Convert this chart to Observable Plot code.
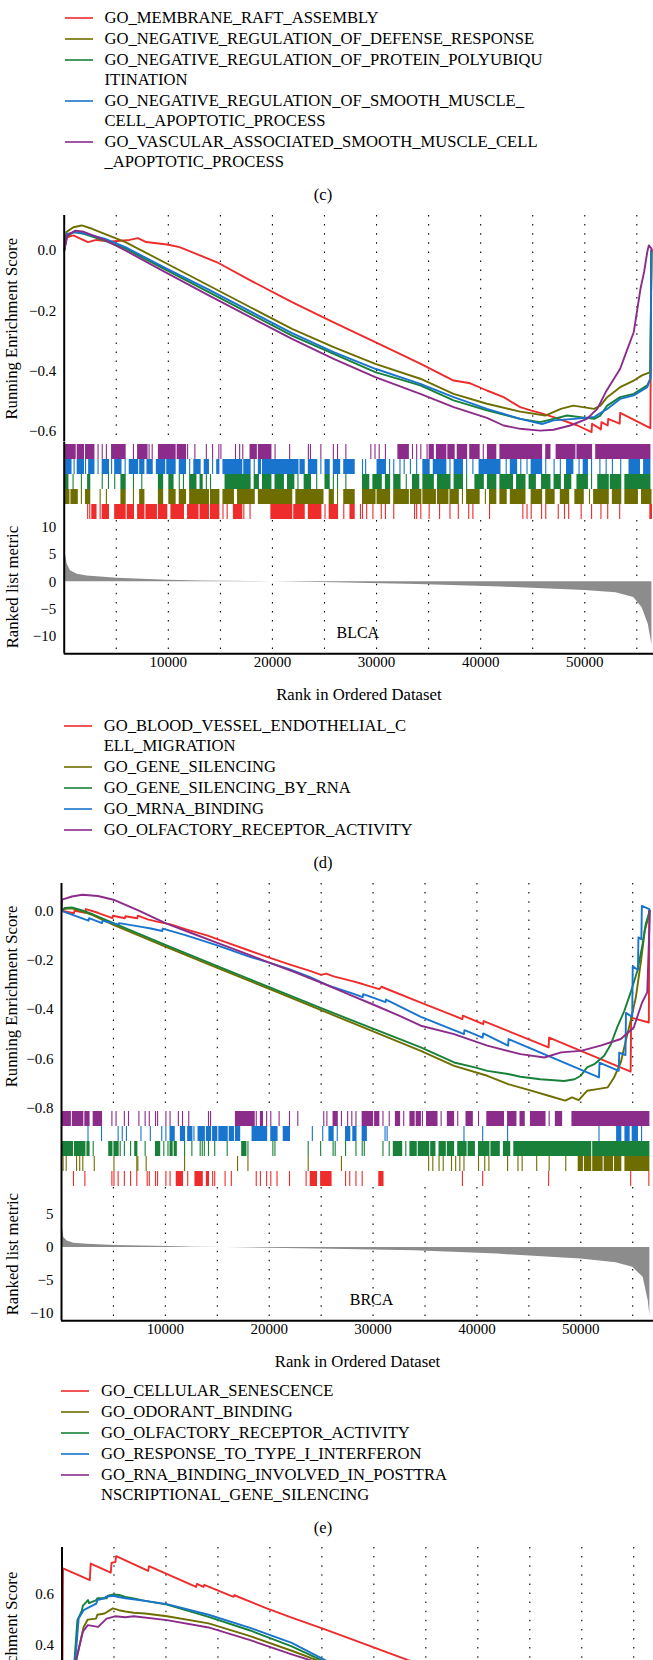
<!DOCTYPE html>
<html><head><meta charset="utf-8">
<script src="https://cdn.jsdelivr.net/npm/d3@7"></script>
<script src="https://cdn.jsdelivr.net/npm/@observablehq/plot@0.6"></script>
<style>
html,body{margin:0;padding:0;overflow:hidden;background:#fff;}
#page{position:relative;width:653px;height:1660px;overflow:hidden;font-family:"Liberation Serif","Times New Roman",serif;color:#000;background:#fff;}
.lbl{position:absolute;white-space:pre;line-height:20px;font-size:16.6px;}
</style></head>
<body><div id="page"></div>
<script>
// ---------- DATA (rank in thousands) ----------
const seriesColors = ["#ee2c2c", "#6e6e00", "#188038", "#1874cd", "#8b2c8b"];
const panelLabels = ["(c)", "(d)", "(e)"];
const legendC = ["GO_MEMBRANE_RAFT_ASSEMBLY", "GO_NEGATIVE_REGULATION_OF_DEFENSE_RESPONSE", "GO_NEGATIVE_REGULATION_OF_PROTEIN_POLYUBIQU\nITINATION", "GO_NEGATIVE_REGULATION_OF_SMOOTH_MUSCLE_\nCELL_APOPTOTIC_PROCESS", "GO_VASCULAR_ASSOCIATED_SMOOTH_MUSCLE_CELL\n_APOPTOTIC_PROCESS"];
const legendD = ["GO_BLOOD_VESSEL_ENDOTHELIAL_C\nELL_MIGRATION", "GO_GENE_SILENCING", "GO_GENE_SILENCING_BY_RNA", "GO_MRNA_BINDING", "GO_OLFACTORY_RECEPTOR_ACTIVITY"];
const legendE = ["GO_CELLULAR_SENESCENCE", "GO_ODORANT_BINDING", "GO_OLFACTORY_RECEPTOR_ACTIVITY", "GO_RESPONSE_TO_TYPE_I_INTERFERON", "GO_RNA_BINDING_INVOLVED_IN_POSTTRA\nNSCRIPTIONAL_GENE_SILENCING"];

const gridRanks = [5, 10, 15, 20, 25, 30, 35, 40, 45, 50, 55];
const rankTicks = [10, 20, 30, 40, 50];
const xTitle = "Rank in Ordered Dataset";
const esTitle = "Running Enrichment Score";
const metricTitle = "Ranked list metric";

// BLCA (d)
const blcaEsTicks = [0, -0.2, -0.4, -0.6];
const blcaMetricTicks = [10, 5, 0, -5, -10];
const blcaRed = [[0,0],[0.28,0.044],[0.88,0.05],[2.28,0.028],[3.08,0.035],[4.5,0.03],[6.28,0.035],[7.08,0.041],[7.88,0.028],[9.88,0.02],[11.08,0.011],[12.68,-0.011],[14.68,-0.039],[17.88,-0.099],[21.88,-0.171],[25.88,-0.238],[29.88,-0.304],[34.2,-0.375],[37.4,-0.431],[39.0,-0.44],[40.6,-0.464],[42.2,-0.486],[43.8,-0.519],[44.8,-0.53],[45.7,-0.538],[47.0,-0.552],[49.3,-0.58],[50.65,-0.602],[50.7,-0.574],[51.55,-0.593],[51.6,-0.569],[52.2,-0.58],[52.25,-0.558],[53.35,-0.574],[53.4,-0.538],[56.3,-0.589],[56.4,0]];
const blcaOlive = [[0,0],[0.2,0.061],[0.88,0.077],[1.68,0.083],[2.68,0.072],[3.88,0.055],[5.88,0.028],[9.88,-0.044],[13.88,-0.116],[17.88,-0.188],[21.88,-0.26],[25.88,-0.32],[29.88,-0.376],[34.2,-0.425],[37.4,-0.475],[40.6,-0.508],[43.8,-0.534],[46.2,-0.547],[47.7,-0.525],[48.9,-0.514],[50.9,-0.525],[51.5,-0.514],[52.15,-0.486],[53.4,-0.453],[54.7,-0.431],[55.5,-0.414],[56.3,-0.403],[56.4,0]];
const blcaGreen = [[0,0],[0.2,0.044],[0.88,0.061],[1.88,0.055],[3.88,0.033],[5.88,0.006],[9.88,-0.066],[13.88,-0.138],[17.88,-0.21],[21.88,-0.282],[25.88,-0.343],[29.88,-0.403],[34.2,-0.447],[37.4,-0.497],[40.6,-0.53],[43.8,-0.558],[45.7,-0.569],[47.0,-0.558],[48.3,-0.547],[50.9,-0.558],[51.5,-0.547],[52.15,-0.514],[53.4,-0.486],[54.7,-0.475],[56.0,-0.447],[56.3,-0.425],[56.4,0]];
const blcaBlue = [[0,0],[0.28,0.055],[1.08,0.061],[1.88,0.057],[3.88,0.039],[5.88,0.011],[9.88,-0.061],[13.88,-0.13],[17.88,-0.202],[21.88,-0.274],[25.88,-0.337],[29.88,-0.392],[34.2,-0.442],[37.4,-0.486],[40.6,-0.525],[43.8,-0.558],[45.9,-0.575],[47.0,-0.563],[49.0,-0.558],[50.9,-0.552],[52.15,-0.525],[53.4,-0.492],[54.7,-0.48],[56.0,-0.453],[56.3,-0.425],[56.4,0]];
const blcaPurple = [[0,0],[0.28,0.05],[1.08,0.066],[1.88,0.062],[3.88,0.035],[5.88,0],[9.88,-0.075],[13.88,-0.149],[17.88,-0.221],[21.88,-0.293],[25.88,-0.359],[29.88,-0.42],[34.2,-0.475],[37.4,-0.519],[40.6,-0.555],[42.2,-0.58],[43.8,-0.591],[45.7,-0.597],[47.0,-0.594],[48.6,-0.58],[50.2,-0.558],[51.2,-0.525],[52.0,-0.47],[52.8,-0.425],[53.4,-0.392],[54.1,-0.326],[54.7,-0.271],[55.35,-0.127],[55.7,-0.071],[56.0,-0.005],[56.15,0.017],[56.4,0.006],[56.45,0]];
const blcaHitsRed = [2.3,2.5,[2.7,3.1],3.5,[3.7,4.3],[4.9,5.9],[6.1,6.7],[7.1,7.7],[7.9,8.9],[9.1,9.9],[10.3,11.5],[11.9,12.9],[13.1,13.9],[14.1,14.9],15.3,15.7,[16.3,17.1],17.3,17.9,[19.9,21.9],[22.1,23.1],[23.5,24.7],25.1,[25.5,26.3],26.9,[27.5,27.9],28.5,28.7,29.1,29.7,30.5,30.9,31.7,33.7,33.9,34.3,35.1,36.1,37.1,37.9,38.9,39.3,40.9,44.1,44.5,44.9,45.9,46.3,47.5,48.1,48.5,49.7,50.7,51.6,52.25,53.4,[56.3,56.45]];
const blcaHitsOlive = [[0.1,0.5],[0.7,1.3],1.7,[2.1,2.5],3.5,4.1,[5.5,5.9],6.7,[7.3,7.7],[9.1,9.5],[10.1,10.7],[11.1,11.7],[12.1,13.9],[14.1,14.9],[15.3,16.3],[16.7,18.3],[18.7,21.9],[22.3,24.9],[25.5,25.9],26.3,[26.9,27.9],[28.7,29.9],[30.1,31.3],[31.7,33.1],[33.3,34.3],[34.5,35.7],[35.9,36.9],[37.1,37.9],38.3,[38.7,39.9],40.5,[40.9,41.5],[41.9,42.5],[42.9,44.3],[44.9,45.9],[46.3,47.1],[47.7,48.5],[49.1,49.9],50.5,[50.9,52.3],[52.7,53.5],[53.9,55.1],[55.5,56.4]];
const blcaHitsGreen = [[0.1,0.4],0.9,1.7,[2.3,2.5],3.7,4.3,4.9,[5.5,5.9],6.7,7.5,[9.1,9.5],[10.1,10.5],11.1,11.5,[12.1,12.7],[13.1,13.3],13.7,14.1,[15.5,17.9],[18.3,18.7],[19.1,19.9],[20.3,21.1],[21.5,22.1],22.5,[23.1,23.7],24.3,[25.1,25.5],25.9,26.3,27.1,[28.7,29.3],[29.7,30.5],[30.9,31.3],[31.7,32.3],32.9,[33.5,34.1],[34.5,35.5],[35.9,37.1],[37.5,38.3],38.7,[39.5,40.3],[40.7,41.5],[41.9,43.1],[43.5,44.3],[44.7,45.3],[45.9,46.7],[47.1,47.7],[48.1,48.7],[49.3,50.3],50.7,[51.3,52.3],[52.5,53.5],[53.9,56.3]];
const blcaHitsBlue = [[0.1,0.7],1.0,[1.3,1.9],2.1,[2.4,2.9],3.3,[3.7,4.3],4.6,[4.9,5.5],5.9,[6.3,7.1],[7.3,7.7],[8.0,8.5],[8.9,9.7],[9.9,10.7],[11.1,11.7],12.1,[12.5,13.1],[13.5,13.9],14.3,[14.7,14.9],[15.3,17.1],[17.3,17.9],18.3,[18.7,18.9],[19.1,22.5],[22.7,23.1],[23.5,24.3],24.7,[25.1,25.5],[25.9,26.5],[26.9,27.9],28.7,29.0,[30.1,30.9],31.3,31.7,32.3,32.7,33.3,33.9,[34.5,35.1],[35.5,36.7],37.1,[37.5,38.3],38.7,39.3,[39.9,41.9],42.5,[42.9,43.5],43.9,44.5,[44.9,45.9],46.3,47.1,47.7,[48.3,48.9],49.5,[49.9,50.3],50.7,51.5,52.1,52.7,53.5,[54.3,55.3],[55.7,56.3]];
const blcaHitsPurple = [[0.1,1.1],[1.3,1.9],[2.1,2.9],3.3,3.7,4.1,[4.6,5.9],6.7,[7.1,8.0],8.2,8.5,[9.1,10.7],[10.9,11.7],11.9,12.6,13.7,14.3,14.9,15.1,16.5,16.9,17.2,[17.9,18.5],[18.7,19.9],20.3,21.7,23.5,23.7,24.7,25.9,26.3,27.1,29.5,29.9,30.3,30.9,[32.1,33.1],33.5,33.9,34.3,34.9,[35.1,35.5],[35.8,36.7],[36.9,37.5],[37.8,38.7],[39.0,39.9],40.3,[40.7,41.5],[41.9,45.9],[46.3,46.7],[47.3,49.1],[49.3,50.7],[51.1,56.3]];
const blcaMetric = [[0,9.3],[0.06,8.7],[0.125,5.0],[0.29,3.2],[0.6,2.0],[1.25,1.35],[2.2,1.05],[5.1,0.62],[9.9,0.28],[13.1,0.14],[18,0.02],[20,0],[26,-0.2],[34,-0.5],[42,-0.97],[50,-1.6],[53,-2.0],[54.7,-2.9],[55.5,-4.7],[56.1,-7.8],[56.45,-11.5]];

// BRCA (e)
const brcaEsTicks = [0, -0.2, -0.4, -0.6, -0.8];
const brcaMetricTicks = [5, 0, -5, -10];
const brcaRed = [[0,0],[1.2,-0.01],[1.25,0.0],[2.3,-0.008],[2.35,0.007],[3.5,-0.008],[4.9,-0.03],[4.95,-0.02],[6.1,-0.03],[6.15,-0.022],[7.3,-0.03],[7.35,-0.02],[8.3,-0.035],[9.3,-0.045],[10.5,-0.055],[12,-0.075],[14,-0.1],[16,-0.13],[18,-0.16],[20,-0.19],[22,-0.218],[24,-0.245],[25.0,-0.26],[25.5,-0.255],[26.2,-0.266],[28,-0.285],[29,-0.297],[30.6,-0.318],[30.8,-0.308],[34.6,-0.372],[38.6,-0.439],[38.65,-0.425],[40.6,-0.46],[40.65,-0.447],[46.9,-0.554],[46.95,-0.514],[54.8,-0.652],[54.85,-0.433],[56.55,-0.453],[56.6,0]];
const brcaOlive = [[0,0],[0.3,0.008],[1,0.01],[2,-0.002],[3,-0.018],[5,-0.057],[10,-0.145],[15,-0.231],[20,-0.317],[25,-0.403],[30,-0.489],[34.6,-0.568],[37.8,-0.629],[41.0,-0.669],[43.0,-0.703],[45.3,-0.73],[46.9,-0.75],[48.5,-0.77],[49.15,-0.757],[49.8,-0.768],[50.6,-0.73],[51.6,-0.723],[52.6,-0.716],[53.2,-0.676],[53.85,-0.615],[54.33,-0.527],[54.8,-0.446],[55.3,-0.351],[55.8,-0.203],[56.15,-0.081],[56.5,-0.027],[56.6,0]];
const brcaGreen = [[0,0],[0.3,0.012],[1,0.014],[2,0.002],[3,-0.014],[5,-0.05],[10,-0.138],[15,-0.224],[20,-0.31],[25,-0.395],[30,-0.478],[34.6,-0.554],[37.8,-0.615],[39.8,-0.635],[41.0,-0.649],[43.0,-0.662],[44.2,-0.673],[46.1,-0.683],[48.4,-0.69],[49.4,-0.683],[50.0,-0.669],[50.6,-0.635],[51.3,-0.622],[52.25,-0.588],[52.9,-0.541],[53.5,-0.473],[54.2,-0.405],[54.8,-0.331],[55.45,-0.243],[55.95,-0.135],[56.25,-0.054],[56.55,-0.013],[56.6,0]];
const brcaBlue = [[0,0],[2.6,-0.04],[2.65,-0.03],[3.9,-0.05],[3.95,-0.04],[5.5,-0.056],[5.55,-0.05],[7.7,-0.065],[8.6,-0.072],[9.7,-0.082],[9.75,-0.072],[12,-0.1],[15,-0.14],[18,-0.185],[20,-0.21],[22,-0.238],[24,-0.27],[25.8,-0.305],[28,-0.335],[29.0,-0.35],[29.05,-0.338],[31.2,-0.37],[31.25,-0.36],[34.6,-0.43],[38.75,-0.5],[38.8,-0.484],[40.55,-0.514],[40.6,-0.497],[43.0,-0.547],[43.05,-0.52],[51.75,-0.676],[51.8,-0.616],[53.65,-0.649],[53.7,-0.575],[54.3,-0.585],[54.35,-0.414],[54.95,-0.43],[55.0,-0.225],[55.5,-0.24],[55.55,-0.108],[55.83,-0.115],[55.88,0.02],[56.6,0.007],[56.62,0]];
const brcaPurple = [[0,0],[0.05,0.045],[1,0.058],[2,0.065],[3.5,0.06],[5,0.045],[7.5,0.0],[10,-0.05],[12.5,-0.09],[15,-0.13],[17.5,-0.17],[20,-0.21],[22.5,-0.25],[25.8,-0.305],[28,-0.345],[30,-0.38],[32.5,-0.425],[34.6,-0.466],[37.8,-0.5],[41.0,-0.547],[44.2,-0.581],[46.5,-0.595],[48.1,-0.574],[50.0,-0.568],[51.9,-0.547],[53.85,-0.52],[55.1,-0.473],[55.9,-0.372],[56.4,-0.331],[56.65,0]];
const brcaHitsRed = [1.2,2.3,4.9,5.1,5.5,6.1,6.7,7.3,8.3,8.5,9.1,9.3,10.1,10.5,[11.1,11.7],12.2,[12.9,13.6],[14.0,14.2],14.6,14.8,15.8,16.4,18.8,19.2,19.8,20.2,20.8,22.0,23.6,[24.0,24.6],[25.0,26.0],27.4,27.8,28.4,29.0,[30.6,31.0],38.65,40.6,46.95,54.85,56.6];
const brcaHitsOlive = [0.2,0.5,1.5,1.8,2.1,3.2,5.1,7.3,7.4,8.2,11.9,17.0,18.0,23.8,27.0,35.4,35.8,36.4,36.8,37.6,38.0,38.4,38.8,40.2,40.8,41.2,43.0,44.0,44.4,45.8,47.0,48.6,[49.8,50.2],[50.4,51.0],[51.2,52.1],[52.3,53.1],[53.3,53.9],[54.3,56.6]];
const brcaHitsGreen = [[0.1,1.1],[1.3,2.3],[2.5,2.7],3.1,[4.6,4.9],[5.1,5.5],5.7,6.1,6.7,[7.1,7.3],8.1,[9.1,9.5],9.9,10.3,[10.5,10.7],[10.9,11.1],11.9,12.6,13.4,13.6,13.8,14.2,14.8,16.0,[17.4,17.8],18.0,20.4,20.6,23.8,25.0,26.2,26.4,27.4,28.4,29.0,29.2,31.0,31.6,[32.0,32.8],33.2,[33.6,34.2],[34.4,35.4],[35.6,36.0],[36.4,37.0],[37.2,37.8],[38.2,39.0],[39.2,39.8],[40.2,41.2],[41.4,42.2],[42.6,43.2],[43.6,51.0],[51.2,56.6]];
const brcaHitsBlue = [2.6,3.9,5.5,5.9,6.3,7.7,8.6,9.7,10.1,[10.5,10.9],[11.5,11.9],[12.2,12.6],12.8,[13.2,13.8],[14.0,14.4],[14.6,15.0],[15.2,16.0],[16.2,16.6],[16.8,17.2],[18.4,19.8],[20.2,20.8],[21.4,22.0],24.2,25.2,[25.8,26.2],26.6,[27.4,27.8],[28.1,28.4],[29.0,29.4],31.2,31.4,38.8,40.6,43.0,51.8,[53.5,53.9],[54.3,54.7],[55.0,55.5],55.9];
const brcaHitsPurple = [[0.1,0.9],[1.1,2.1],[2.3,2.7],[3.1,3.9],4.9,5.3,6.1,6.5,7.5,8.1,8.5,9.1,9.3,10.1,10.5,11.3,11.7,12.3,14.2,14.4,[16.8,18.6],18.8,[19.2,19.4],19.8,20.2,21.0,22.0,22.8,25.3,25.6,[26.2,26.6],27.0,27.6,28.0,28.4,[29.0,30.0],[30.2,30.6],31.0,31.6,[32.2,32.6],33.0,[33.6,34.0],[34.2,34.6],34.8,[35.2,36.2],36.6,[37.2,37.8],38.2,[39.0,39.6],40.2,[41.0,42.6],[43.0,43.8],[44.2,44.6],[45.2,46.6],47.0,[47.6,48.2],[49.2,56.6]];
const brcaMetric = [[0,8.3],[0.04,8.0],[0.096,3.0],[0.225,1.5],[0.55,1.0],[1.19,0.66],[2.5,0.5],[5.09,0.3],[10.2,0.15],[13,0.05],[16,0],[26,-0.25],[34,-0.5],[42,-1.0],[50,-1.75],[53.4,-2.3],[55,-3.0],[56,-4.5],[56.5,-8.1],[56.65,-10.3]];

// next panel (f), only its top is visible
const fEsTicks = [0.4, 0.6];
const fRed = [[0,0],[0.1,0.703],[2.68,0.657],[2.76,0.722],[4.69,0.686],[4.77,0.725],[5.13,0.728],[5.21,0.751],[8.29,0.693],[8.37,0.712],[12.9,0.63],[12.98,0.642],[13.6,0.63],[13.68,0.638],[16.5,0.591],[16.58,0.597],[19.7,0.545],[22.1,0.509],[25.3,0.462],[33.3,0.341],[34.5,0.323]];
const fOlive = [[0,0],[1.36,0.34],[2.08,0.472],[2.48,0.501],[3.28,0.505],[3.4,0.52],[4.09,0.525],[4.89,0.545],[5.49,0.538],[6.1,0.533],[6.89,0.528],[8,0.525],[10.1,0.514],[14.1,0.486],[18.1,0.436],[22.1,0.378],[24.5,0.341],[25.3,0.325]];
const fGreen = [[0,0],[1.2,0.34],[1.48,0.499],[1.9,0.535],[2.0,0.555],[2.5,0.578],[2.6,0.566],[3.3,0.578],[3.4,0.585],[4.3,0.585],[4.4,0.595],[5.0,0.6],[5.5,0.598],[6.1,0.59],[6.9,0.584],[8.0,0.575],[10.1,0.56],[14.1,0.512],[18.1,0.458],[22.1,0.395],[25.1,0.338],[26,0.32]];
const fBlue = [[0,0],[1.28,0.34],[1.6,0.505],[2.08,0.538],[2.68,0.551],[3.3,0.564],[3.4,0.578],[4.1,0.585],[4.2,0.591],[5.0,0.595],[5.3,0.591],[6.1,0.585],[8,0.575],[10.1,0.562],[14.1,0.52],[18.1,0.468],[22.1,0.409],[25.3,0.341],[26,0.325]];
const fPurple = [[0,0],[1.36,0.34],[2.0,0.453],[2.48,0.479],[3.48,0.472],[4.29,0.505],[5.09,0.514],[6.1,0.51],[6.89,0.514],[10.1,0.499],[14.1,0.47],[18.1,0.42],[22.1,0.364],[24.1,0.338],[25,0.32]];

// ---------- DRAWING ----------
const page = document.getElementById("page");
const W = 653;
const baseStyle = {fontFamily: '"Liberation Serif","Times New Roman",serif', fontSize: "15px", background: "transparent", color: "#000", overflow: "visible"};

function place(el, top) {
  el.style.position = "absolute";
  el.style.left = "0px";
  el.style.top = top + "px";
  page.appendChild(el);
}

function esPlot({top, bottom, x0, xMax, yDomain, ticks, series}) {
  const svg = Plot.plot({
    width: W, height: bottom - top, marginTop: 0, marginBottom: 0, marginLeft: x0, marginRight: 0,
    style: baseStyle,
    x: {domain: [0, xMax], axis: null},
    y: {domain: yDomain, ticks, tickFormat: d3.format(".1f"), tickSize: 0, tickPadding: 8, label: null},
    marks: [
      Plot.ruleX(gridRanks, {stroke: "#000", strokeWidth: 1.1, strokeDasharray: "1.5,7.6"}),
      ...series.map((s, i) => Plot.line(s, {x: d => d[0], y: d => d[1], stroke: seriesColors[i], strokeWidth: 1.9, clip: true})),
      Plot.ruleX([0], {stroke: "#000", strokeWidth: 2}),
      Plot.text([esTitle], {text: d => d, frameAnchor: "left", textAnchor: "middle", lineAnchor: "middle", rotate: -90, dx: 11.5 - x0, fontSize: 16.7})
    ]
  });
  place(svg, top);
}

function hitsPlot({top, bottom, x0, xMax, sets, hits}) {
  const rows = [];
  sets.forEach((name, i) => hits[i].forEach(h => {
    const [a, b] = Array.isArray(h) ? h : [h, h];
    rows.push({set: name, a, b});
  }));
  const svg = Plot.plot({
    width: W, height: bottom - top, marginTop: 0, marginBottom: 0, marginLeft: x0, marginRight: 0,
    style: baseStyle,
    x: {domain: [0, xMax], axis: null},
    y: {domain: sets.slice().reverse(), axis: null, padding: 0},
    color: {domain: sets, range: seriesColors},
    marks: [
      Plot.barX(rows, {x1: "a", x2: "b", y: "set", fill: "set", insetLeft: -0.55, insetRight: -0.55}),
      Plot.ruleX([0], {stroke: "#000", strokeWidth: 2})
    ]
  });
  place(svg, top);
}

function metricPlot({top, bottom, x0, xMax, yDomain, ticks, metric, name, nameDx}) {
  const svg = Plot.plot({
    width: W, height: (bottom - top) + 52, marginTop: 0, marginBottom: 52, marginLeft: x0, marginRight: 0,
    style: baseStyle,
    x: {domain: [0, xMax], ticks: rankTicks, tickFormat: d => String(Math.round(d * 1000)), tickSize: 0, tickPadding: 3, label: null},
    y: {domain: yDomain, ticks, tickFormat: d3.format("d"), tickSize: 0, tickPadding: 8, label: null},
    marks: [
      Plot.ruleX(gridRanks, {stroke: "#000", strokeWidth: 1.1, strokeDasharray: "1.5,7.6"}),
      Plot.areaY(metric, {x: d => d[0], y: d => d[1], fill: "#8c8c8c"}),
      Plot.ruleX([0], {stroke: "#000", strokeWidth: 2}),
      Plot.ruleY([yDomain[0]], {stroke: "#000", strokeWidth: 2}),
      Plot.text([name], {text: d => d, frameAnchor: "bottom", textAnchor: "middle", lineAnchor: "middle", dx: nameDx, dy: -20.5, fontSize: 16}),
      Plot.text([metricTitle], {text: d => d, frameAnchor: "left", textAnchor: "middle", lineAnchor: "middle", rotate: -90, dx: 12.5 - x0, fontSize: 16.7}),
      Plot.text([xTitle], {text: d => d, frameAnchor: "bottom", textAnchor: "middle", lineAnchor: "middle", dy: 41, fontSize: 16.7})
    ]
  });
  place(svg, top);
}

function legend(labels, x0, firstCenter) {
  let y = firstCenter;
  labels.forEach((lab, i) => {
    const sw = document.createElement("div");
    sw.style.cssText = `position:absolute;left:${x0}px;top:${y - 1}px;width:28px;height:0;border-top:2px solid ${seriesColors[i]};opacity:0.8;`;
    page.appendChild(sw);
    lab.split("\n").forEach(line => {
      const t = document.createElement("div");
      t.className = "lbl";
      t.style.left = (x0 + 40) + "px";
      t.style.top = (y - 10) + "px";
      t.textContent = line;
      page.appendChild(t);
      y += 20;
    });
    y += 1;
  });
}

function panelLabel(text, cy) {
  const t = document.createElement("div");
  t.className = "lbl";
  t.style.cssText += "left:0;width:646px;text-align:center;font-size:16.5px;";
  t.style.top = (cy - 10) + "px";
  t.textContent = text;
  page.appendChild(t);
}

// legend of panel (c) (chart above is outside the view)
legend(legendC, 64.5, 18.3);
panelLabel(panelLabels[0], 195);

// BLCA chart
const blcaSets = legendD.map(s => s.replace("\n", ""));
esPlot({top: 215, bottom: 441.5, x0: 63.7, xMax: 56.6, yDomain: [-0.6347, 0.116], ticks: blcaEsTicks,
  series: [blcaRed, blcaOlive, blcaGreen, blcaBlue, blcaPurple]});
hitsPlot({top: 441.5, bottom: 519.5, x0: 63.7, xMax: 56.6, sets: blcaSets,
  hits: [blcaHitsRed, blcaHitsOlive, blcaHitsGreen, blcaHitsBlue, blcaHitsPurple]});
metricPlot({top: 519.5, bottom: 652.7, x0: 63.7, xMax: 56.6, yDomain: [-13.16, 11.19], ticks: blcaMetricTicks,
  metric: blcaMetric, name: "BLCA", nameDx: -1});
legend(legendD, 63.7, 725.7);
panelLabel(panelLabels[1], 863.3);

// BRCA chart
const brcaSets = legendE.map(s => s.replace("\n", ""));
esPlot({top: 882.7, bottom: 1108.7, x0: 61, xMax: 57.0, yDomain: [-0.8058, 0.1107], ticks: brcaEsTicks,
  series: [brcaRed, brcaOlive, brcaGreen, brcaBlue, brcaPurple]});
hitsPlot({top: 1108.7, bottom: 1186.7, x0: 61, xMax: 57.0, sets: brcaSets,
  hits: [brcaHitsRed, brcaHitsOlive, brcaHitsGreen, brcaHitsBlue, brcaHitsPurple]});
metricPlot({top: 1186.7, bottom: 1320, x0: 61, xMax: 57.0, yDomain: [-11.1, 9.09], ticks: brcaMetricTicks,
  metric: brcaMetric, name: "BRCA", nameDx: 14});
legend(legendE, 61, 1390.7);
panelLabel(panelLabels[2], 1527.7);

// next chart, top part only
esPlot({top: 1547.3, bottom: 1777.3, x0: 61.5, xMax: 56.9, yDomain: [-0.122, 0.7854], ticks: fEsTicks,
  series: [fRed, fOlive, fGreen, fBlue, fPurple]});
</script>
</body></html>
